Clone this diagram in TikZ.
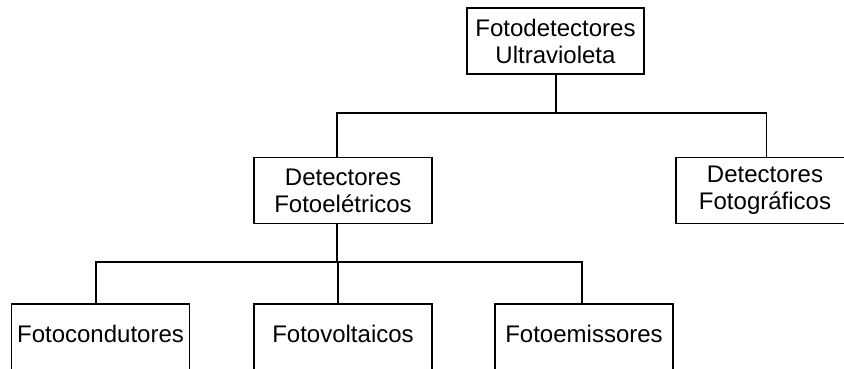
\documentclass[tikz,border=0pt]{standalone}
\usepackage{fontspec}
\setmainfont{Liberation Sans}
\begin{document}
\begin{tikzpicture}[x=1pt,y=-1pt,
  box/.style={draw=black,line width=1.6pt,fill=white,inner sep=0pt,
    minimum width=178pt,minimum height=66pt,align=center,
    font=\fontsize{24}{27}\selectfont},
  onebox/.style={box,text height=17pt,text depth=7pt},
  conn/.style={draw=black,line width=1.6pt}]
\useasboundingbox (0,0) rectangle (844,368);
\clip (0,0) rectangle (844,368);
\fill[white] (0,0) rectangle (844,368);
\node[box,minimum width=177pt] (top) at (555.5,41) {Fotodetectores\\Ultravioleta};
\node[box] (fe) at (343,190.5) {Detectores\\Fotoelétricos};
\node[box] (fg) at (765,190.5) {Detectores\\Fotográficos};
\node[onebox] (fc) at (100.5,337) {Fotocondutores};
\node[onebox] (fv) at (343,337) {Fotovoltaicos};
\node[onebox] (fo) at (584,337) {Fotoemissores};
\coordinate (j1) at (556,113);
\coordinate (j2) at (337,262);
\draw[conn] (top.south -| j1) -- (j1);
\draw[conn] ([xshift=-6pt]fe.north) |- (j1) -| ([xshift=1.5pt]fg.north);
\draw[conn] (fe.south -| j2) -- (j2);
\draw[conn] ([xshift=-4.5pt]fc.north) |- (j2) -| ([xshift=-2pt]fo.north);
\draw[conn] (j2) -| ([xshift=-5pt]fv.north);
\end{tikzpicture}
\end{document}
